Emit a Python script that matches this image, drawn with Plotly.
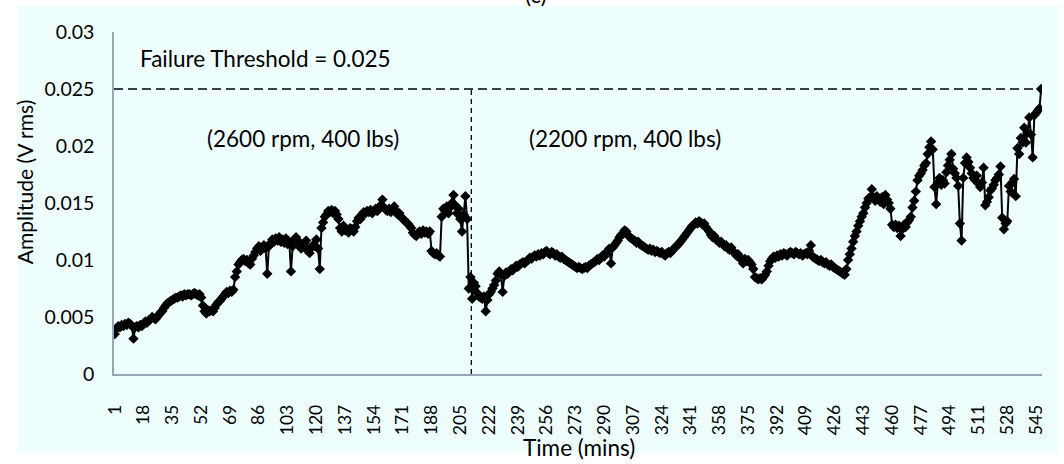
import plotly.graph_objects as go

amplitude = [
    0.0035, 0.0040, 0.0042, 0.0041, 0.0043, 0.0042, 0.0044, 0.0043, 0.0045, 0.0044,
    0.0042, 0.0031, 0.0041, 0.0042, 0.0041, 0.0043, 0.0042, 0.0044, 0.0046, 0.0045,
    0.0047, 0.0048, 0.0050, 0.0049, 0.0048, 0.0050, 0.0052, 0.0054, 0.0055, 0.0058,
    0.0060, 0.0062, 0.0063, 0.0064, 0.0065, 0.0066, 0.0067, 0.0067, 0.0068, 0.0069,
    0.0068, 0.0070, 0.0069, 0.0070, 0.0070, 0.0069, 0.0070, 0.0071, 0.0070, 0.0069,
    0.0070, 0.0067, 0.0060, 0.0055, 0.0053, 0.0056, 0.0055, 0.0056, 0.0055, 0.0058,
    0.0061, 0.0063, 0.0064, 0.0066, 0.0068, 0.0070, 0.0072, 0.0071, 0.0073, 0.0072,
    0.0074, 0.0085, 0.0090, 0.0096, 0.0098, 0.0100, 0.0101, 0.0099, 0.0100, 0.0097,
    0.0096, 0.0101, 0.0104, 0.0107, 0.0110, 0.0112, 0.0108, 0.0111, 0.0113, 0.0110,
    0.0088, 0.0112, 0.0115, 0.0118, 0.0116, 0.0119, 0.0117, 0.0120, 0.0116, 0.0118,
    0.0115, 0.0119, 0.0114, 0.0116, 0.0090, 0.0112, 0.0118, 0.0120, 0.0117, 0.0113,
    0.0110, 0.0112, 0.0115, 0.0117, 0.0108, 0.0106, 0.0111, 0.0113, 0.0112, 0.0118,
    0.0110, 0.0092, 0.0128, 0.0133, 0.0138, 0.0140, 0.0143, 0.0142, 0.0144, 0.0141,
    0.0143, 0.0140, 0.0136, 0.0128, 0.0125, 0.0130, 0.0126, 0.0127, 0.0124, 0.0128,
    0.0127, 0.0125, 0.0129, 0.0134, 0.0137, 0.0136, 0.0140, 0.0142, 0.0141, 0.0143,
    0.0142, 0.0144, 0.0141, 0.0143, 0.0145, 0.0143, 0.0146, 0.0148, 0.0153, 0.0146,
    0.0144, 0.0143, 0.0145, 0.0142, 0.0144, 0.0147, 0.0143, 0.0140, 0.0141, 0.0138,
    0.0136, 0.0135, 0.0133, 0.0132, 0.0130, 0.0128, 0.0124, 0.0122, 0.0121, 0.0124,
    0.0125, 0.0123, 0.0126, 0.0124, 0.0125, 0.0123, 0.0125, 0.0108, 0.0106, 0.0105,
    0.0106, 0.0104, 0.0103, 0.0138, 0.0145, 0.0143, 0.0147, 0.0141, 0.0146, 0.0150,
    0.0157, 0.0148, 0.0141, 0.0145, 0.0136, 0.0125, 0.0140, 0.0156, 0.0136, 0.0075,
    0.0085, 0.0066, 0.0080, 0.0077, 0.0071, 0.0068, 0.0067, 0.0066, 0.0068, 0.0055,
    0.0065, 0.0070, 0.0072, 0.0075, 0.0078, 0.0082, 0.0088, 0.0090, 0.0087, 0.0072,
    0.0086, 0.0089, 0.0088, 0.0090, 0.0092, 0.0091, 0.0093, 0.0095, 0.0094, 0.0096,
    0.0097, 0.0098, 0.0097, 0.0099, 0.0100, 0.0102, 0.0101, 0.0103, 0.0104, 0.0103,
    0.0105, 0.0104, 0.0106, 0.0105, 0.0107, 0.0108, 0.0106, 0.0105, 0.0107, 0.0106,
    0.0104, 0.0105, 0.0103, 0.0102, 0.0103, 0.0101, 0.0100, 0.0099, 0.0098, 0.0097,
    0.0096, 0.0095, 0.0094, 0.0093, 0.0094, 0.0093, 0.0092, 0.0093, 0.0094, 0.0093,
    0.0095, 0.0096, 0.0097, 0.0098, 0.0099, 0.0101, 0.0100, 0.0102, 0.0104, 0.0103,
    0.0106, 0.0108, 0.0110, 0.0097, 0.0111, 0.0113, 0.0115, 0.0117, 0.0120, 0.0122,
    0.0123, 0.0126, 0.0125, 0.0122, 0.0120, 0.0119, 0.0118, 0.0117, 0.0115, 0.0116,
    0.0114, 0.0113, 0.0112, 0.0111, 0.0110, 0.0109, 0.0110, 0.0108, 0.0109, 0.0107,
    0.0108, 0.0107, 0.0106, 0.0107, 0.0105, 0.0104, 0.0106, 0.0107, 0.0106, 0.0108,
    0.0110, 0.0111, 0.0113, 0.0114, 0.0116, 0.0118, 0.0120, 0.0122, 0.0124, 0.0126,
    0.0128, 0.0130, 0.0131, 0.0133, 0.0132, 0.0134, 0.0133, 0.0131, 0.0132, 0.0129,
    0.0127, 0.0125, 0.0122, 0.0120, 0.0121, 0.0118, 0.0117, 0.0115, 0.0116, 0.0114,
    0.0112, 0.0113, 0.0110, 0.0109, 0.0111, 0.0108, 0.0106, 0.0104, 0.0105, 0.0102,
    0.0100, 0.0097, 0.0101, 0.0099, 0.0100, 0.0098, 0.0096, 0.0092, 0.0085, 0.0084,
    0.0083, 0.0084, 0.0083, 0.0085, 0.0087, 0.0090, 0.0095, 0.0099, 0.0101, 0.0103,
    0.0102, 0.0104, 0.0103, 0.0105, 0.0104, 0.0106, 0.0105, 0.0104, 0.0106, 0.0107,
    0.0106, 0.0105, 0.0107, 0.0106, 0.0105, 0.0106, 0.0104, 0.0105, 0.0106, 0.0105,
    0.0108, 0.0113, 0.0103, 0.0102, 0.0101, 0.0100, 0.0099, 0.0100, 0.0098, 0.0097,
    0.0098, 0.0096, 0.0095, 0.0096, 0.0094, 0.0093, 0.0092, 0.0091, 0.0090, 0.0089,
    0.0088, 0.0087, 0.0092, 0.0100, 0.0105, 0.0110, 0.0116, 0.0121, 0.0125, 0.0130,
    0.0134, 0.0138, 0.0141, 0.0146, 0.0150, 0.0154, 0.0155, 0.0162, 0.0155, 0.0152,
    0.0156, 0.0153, 0.0151, 0.0155, 0.0149, 0.0157, 0.0153, 0.0150, 0.0145, 0.0131,
    0.0129, 0.0131, 0.0128, 0.0130, 0.0121, 0.0127, 0.0131, 0.0129, 0.0133, 0.0135,
    0.0138, 0.0146, 0.0152, 0.0160, 0.0170, 0.0174, 0.0176, 0.0179, 0.0183, 0.0185,
    0.0193, 0.0199, 0.0204, 0.0197, 0.0164, 0.0149, 0.0168, 0.0172, 0.0166, 0.0170,
    0.0167, 0.0177, 0.0183, 0.0188, 0.0193, 0.0180, 0.0176, 0.0172, 0.0165, 0.0132,
    0.0117, 0.0172, 0.0185, 0.0190, 0.0186, 0.0181, 0.0176, 0.0172, 0.0170, 0.0174,
    0.0167, 0.0164, 0.0168, 0.0181, 0.0148, 0.0151, 0.0155, 0.0161, 0.0163, 0.0166,
    0.0170, 0.0172, 0.0175, 0.0182, 0.0137, 0.0127, 0.0132, 0.0134, 0.0165, 0.0160,
    0.0168, 0.0171, 0.0156, 0.0198, 0.0193, 0.0207, 0.0203, 0.0216, 0.0203, 0.0212,
    0.0225, 0.0210, 0.0190, 0.0227, 0.0229, 0.0231, 0.0233, 0.0250,
]
time_mins = list(range(1, len(amplitude) + 1))

x_tick_labels = [1, 18, 35, 52, 69, 86, 103, 120, 137, 154, 171, 188, 205, 222,
                 239, 256, 273, 290, 307, 324, 341, 358, 375, 392, 409, 426, 443,
                 460, 477, 494, 511, 528, 545]
y_tick_vals = [0, 0.005, 0.01, 0.015, 0.02, 0.025, 0.03]
y_tick_text = ["0", "0.005", "0.01", "0.015", "0.02", "0.025", "0.03"]

failure_threshold = 0.025
speed_change_at = 211.5

FONT = "Lato"
BG = "#EEFEFE"
AXIS = "#95A5BA"
TXT = 22.5

fig = go.Figure()
fig.add_trace(go.Scatter(
    x=time_mins, y=amplitude, mode="lines+markers",
    line=dict(color="black", width=2),
    marker=dict(symbol="diamond", size=8, color="black"),
    showlegend=False,
))

n = len(amplitude)
fig.add_shape(type="rect", xref="paper", yref="paper",
              x0=-0.104, x1=1.0177, y0=-0.230, y1=1.076,
              fillcolor=BG, line=dict(width=0), layer="below")
fig.add_shape(type="line", x0=0.5, x1=n + 0.5, y0=failure_threshold, y1=failure_threshold,
              line=dict(color="black", width=1.3, dash="9px,5px"))
fig.add_shape(type="line", x0=speed_change_at, x1=speed_change_at, y0=0, y1=failure_threshold,
              line=dict(color="black", width=1.3, dash="5px,4px"))

fig.add_annotation(x=14.5, y=0.02767, text="Failure Threshold = 0.025", showarrow=False,
                   xanchor="left", yanchor="middle", font=dict(family=FONT, size=TXT, color="black"))
fig.add_annotation(x=112, y=0.0207, text="(2600 rpm, 400 lbs)", showarrow=False,
                   xanchor="center", yanchor="middle", font=dict(family=FONT, size=TXT, color="black"))
fig.add_annotation(x=302, y=0.0207, text="(2200 rpm, 400 lbs)", showarrow=False,
                   xanchor="center", yanchor="middle", font=dict(family=FONT, size=TXT, color="black"))
fig.add_annotation(xref="paper", yref="paper", x=0.4548, y=1.111, text="(c)", showarrow=False,
                   xanchor="center", yanchor="middle", font=dict(family=FONT, size=TXT, color="black"))
fig.add_annotation(xref="paper", yref="paper", x=(579 - 114.3) / 927.3, y=(374 - 447) / 342,
                   text="Time (mins)", showarrow=False, xanchor="center", yanchor="middle",
                   font=dict(family=FONT, size=TXT, color="black"))
fig.add_annotation(xref="paper", yref="paper", x=(25 - 114.3) / 927.3, y=(374 - 182.5) / 342,
                   text="Amplitude (V rms)", showarrow=False, textangle=-90,
                   xanchor="center", yanchor="middle",
                   font=dict(family=FONT, size=21, color="black"))

fig.update_layout(
    width=1064, height=464,
    margin=dict(l=114, r=22, t=32, b=90),
    paper_bgcolor="white", plot_bgcolor=BG,
    font=dict(family=FONT, size=19.5, color="black"),
    xaxis=dict(range=[0.5, n + 0.5], tickmode="array", tickvals=x_tick_labels,
               ticktext=[str(v) for v in x_tick_labels], tickangle=-90,
               tickfont=dict(size=17.5),
               showgrid=False, zeroline=False, showline=True, linecolor=AXIS, linewidth=1.5,
               ticks="", ticklabelstandoff=22),
    yaxis=dict(range=[0, 0.03], tickmode="array", tickvals=y_tick_vals, ticktext=y_tick_text,
               showgrid=False, zeroline=False, showline=True, linecolor=AXIS, linewidth=1.5,
               ticks="", ticklabelstandoff=14),
)

fig.write_html("out.html", config={"displayModeBar": False},
               post_script="document.body.style.margin='0';document.body.style.padding='0';")
